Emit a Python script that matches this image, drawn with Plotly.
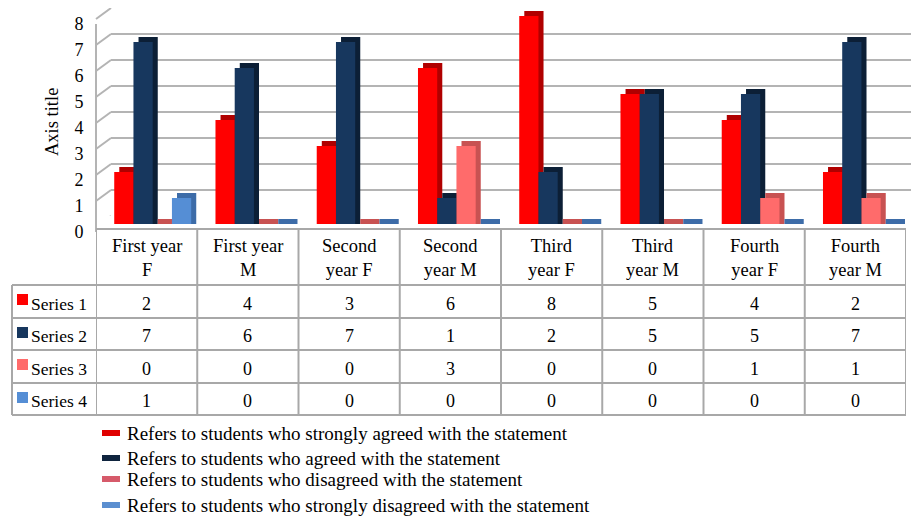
import plotly.graph_objects as go

# ---------------- data ----------------
categories = ["First year<br>F", "First year<br>M", "Second<br>year F", "Second<br>year M",
              "Third<br>year F", "Third<br>year M", "Fourth<br>year F", "Fourth<br>year M"]
series_names = ["Series 1", "Series 2", "Series 3", "Series 4"]
series1 = [2, 4, 3, 6, 8, 5, 4, 2]
series2 = [7, 6, 7, 1, 2, 5, 5, 7]
series3 = [0, 0, 0, 3, 0, 0, 1, 1]
series4 = [1, 0, 0, 0, 0, 0, 0, 0]
legend_labels = [
    "Refers to students who strongly agreed with the statement",
    "Refers to students who agreed with the statement",
    "Refers to students who disagreed with the statement",
    "Refers to students who strongly disagreed with the statement",
]
y_ticks = [0, 1, 2, 3, 4, 5, 6, 7, 8]
axis_title = "Axis title"

# ---------------- styling ----------------
W, H = 911, 516
FONT = "Liberation Serif"
front_colors = ["#FF0000", "#17375E", "#FF6B6B", "#558ED5"]
side_colors = ["#B00000", "#0C1F36", "#C85252", "#3D6CA8"]
legend_colors = ["#E00000", "#0F243E", "#D65A6A", "#5B8FD0"]
grid_color = "#B4B4B4"
table_color = "#A8A8A8"

series_values = [series1, series2, series3, series4]
idx = list(range(len(categories)))

STEP = 0.19          # bar width in category units
GROUP_LEFT = -0.32   # left edge of first bar relative to category centre
DX = 0.05            # depth offset (x, category units)
DY = 5 / 26          # depth offset (y, value units)


def px(x):
    return x / W


def py(y):
    return 1 - y / H


def txt(size=17.5, **kw):
    d = dict(showarrow=False, xanchor="center", yanchor="middle",
             font=dict(family=FONT, size=size, color="black"))
    d.update(kw)
    return d


fig = go.Figure()

# back-wall grid subplot (x / y)
fig.add_trace(go.Scatter(x=[None], y=[None], xaxis="x", yaxis="y",
                         showlegend=False, hoverinfo="skip"))

# bars with pseudo-3D depth (x2 / y2)
for i, vals in enumerate(series_values):
    fig.add_trace(go.Bar(
        x=idx, y=[v + DY for v in vals], width=STEP,
        offset=GROUP_LEFT + i * STEP + DX,
        marker=dict(color=side_colors[i], line=dict(width=0)),
        xaxis="x2", yaxis="y2", showlegend=False, hoverinfo="skip"))
    fig.add_trace(go.Bar(
        x=idx, y=vals, width=STEP, offset=GROUP_LEFT + i * STEP,
        marker=dict(color=front_colors[i], line=dict(width=0)),
        name=series_names[i], xaxis="x2", yaxis="y2", showlegend=False))

# tick-label axis (x2 / y3)
fig.add_trace(go.Scatter(x=[None], y=[None], xaxis="x2", yaxis="y3",
                         showlegend=False, hoverinfo="skip"))

shapes = []
annotations = []

# side wall diagonals
for v in y_ticks:
    shapes.append(dict(type="line", xref="paper", yref="y",
                       x0=px(96), y0=v - 11 / 26, x1=px(111), y1=v,
                       line=dict(color=grid_color, width=2)))

# data table
row_edges = [285, 318, 350, 383, 415]
for k in range(len(categories) + 1):
    shapes.append(dict(type="line", xref="x2", yref="paper",
                       x0=k - 0.5, x1=k - 0.5, y0=py(229), y1=py(415),
                       line=dict(color=table_color, width=2)))
shapes.append(dict(type="line", xref="x2", yref="paper", x0=-0.5, x1=7.5,
                   y0=py(229), y1=py(229), line=dict(color=table_color, width=2)))
for r in row_edges:
    shapes.append(dict(type="line", xref="paper", yref="paper", x0=px(12), x1=px(906),
                       y0=py(r), y1=py(r), line=dict(color=table_color, width=2)))
shapes.append(dict(type="line", xref="paper", yref="paper", x0=px(12), x1=px(12),
                   y0=py(285), y1=py(415), line=dict(color=table_color, width=2)))

for k, cat in enumerate(categories):
    annotations.append(txt(size=18.5, xref="x2", yref="paper", x=k, y=py(258), text=cat))

for i, vals in enumerate(series_values):
    top = row_edges[i]
    bot = row_edges[i + 1]
    yc = (top + bot) / 2 + 2
    shapes.append(dict(type="rect", xref="paper", yref="paper",
                       x0=px(17), x1=px(28), y0=py(top + 9), y1=py(top + 20),
                       fillcolor=front_colors[i], line=dict(width=0)))
    annotations.append(txt(xref="paper", yref="paper", x=px(29), y=py(yc),
                           xanchor="left", text=series_names[i]))
    for k, v in enumerate(vals):
        annotations.append(txt(size=18, xref="x2", yref="paper", x=k, y=py(yc),
                               text=str(v)))

# legend
legend_y = [433, 458, 479, 505]
for i, lab in enumerate(legend_labels):
    y = legend_y[i]
    shapes.append(dict(type="rect", xref="paper", yref="paper",
                       x0=px(102), x1=px(120), y0=py(y + 3), y1=py(y - 3),
                       fillcolor=legend_colors[i], line=dict(width=0)))
    annotations.append(txt(size=19, xref="paper", yref="paper", x=px(125), y=py(y),
                           xanchor="left", text=lab))

# axis title
annotations.append(txt(size=18.5, xref="paper", yref="paper", x=px(52), y=py(122),
                       text=axis_title, textangle=-90))

fig.update_layout(
    width=W, height=H,
    margin=dict(l=0, r=0, t=0, b=0, pad=0, autoexpand=False),
    paper_bgcolor="white", plot_bgcolor="rgba(0,0,0,0)",
    barmode="overlay",
    showlegend=False,
    font=dict(family=FONT, color="black"),
    xaxis=dict(domain=[px(111), 1], range=[0, 1], visible=False, anchor="y",
               fixedrange=True, automargin=False),
    yaxis=dict(domain=[py(216), py(8)], range=[0, 8], tickvals=y_ticks,
               showgrid=True, gridcolor=grid_color, gridwidth=2,
               showticklabels=False, ticks="", zeroline=False, showline=False,
               anchor="x", fixedrange=True, automargin=False),
    xaxis2=dict(domain=[px(96), px(906)], range=[-0.5, 7.5], visible=False,
                anchor="y2", fixedrange=True, automargin=False),
    yaxis2=dict(domain=[py(224), py(3)], range=[0, 8.5], visible=False,
                anchor="x2", fixedrange=True, automargin=False),
    yaxis3=dict(domain=[py(232), py(24)], range=[0, 8], tickvals=y_ticks,
                showgrid=False, zeroline=False, showline=True, linecolor=grid_color,
                linewidth=2, ticks="", anchor="free", position=px(96),
                ticklabelstandoff=8, automargin=False,
                tickfont=dict(family=FONT, size=18, color="black"),
                fixedrange=True),
    shapes=shapes,
    annotations=annotations,
)

fig.write_html("out.html",
               config={"displayModeBar": False},
               post_script="document.body.style.margin='0px';")
